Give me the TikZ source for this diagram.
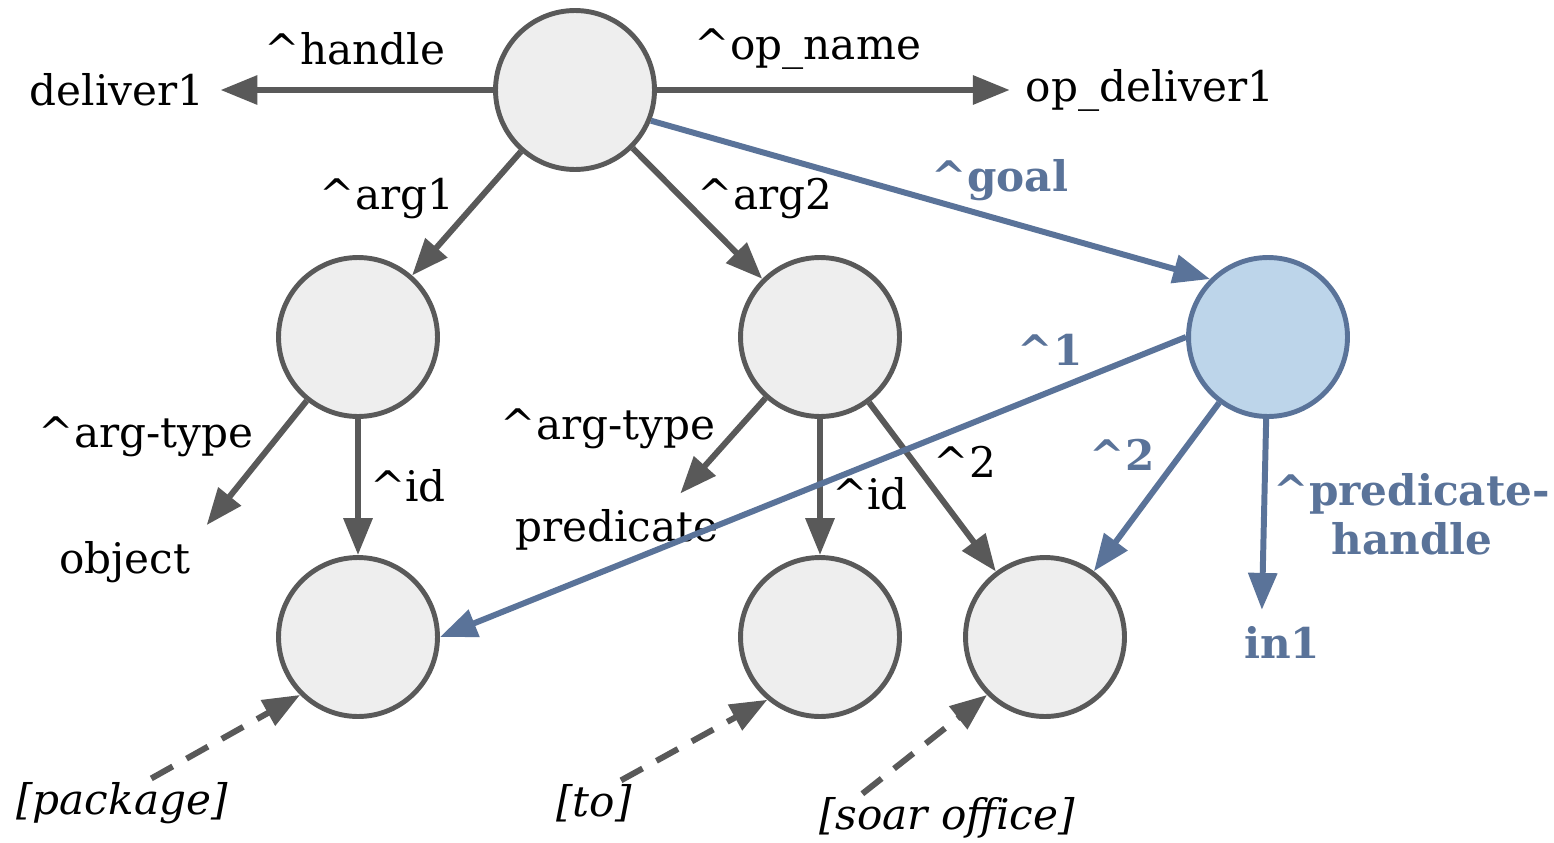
\documentclass[tikz,border=0pt]{standalone}
\usepackage{fontspec}
\setmainfont{DejaVu Serif}
\usetikzlibrary{arrows.meta}
\definecolor{edgegray}{HTML}{595959}
\definecolor{nodegray}{HTML}{EEEEEE}
\definecolor{wmeblue}{HTML}{5A7399}
\definecolor{wmefill}{HTML}{BDD5EA}

\begin{document}
\begin{tikzpicture}[x=0.02cm,y=-0.02cm,
    font=\fontsize{24}{28}\selectfont,
    wme/.style={circle,draw=edgegray,fill=nodegray,line width=2.8pt,minimum size=3.18cm,inner sep=0pt},
    goalwme/.style={wme,draw=wmeblue,fill=wmefill},
    lbl/.style={inner sep=9pt},
    word/.style={inner sep=2pt,font=\fontsize{24}{28}\selectfont\itshape},
    bluelbl/.style={text=wmeblue,font=\fontsize{24}{28}\selectfont\bfseries},
    arc/.style={-{Triangle[length=21pt,width=16pt]},line width=3.4pt,draw=edgegray},
    bluearc/.style={arc,draw=wmeblue},
    wordarc/.style={arc,dash pattern=on 14pt off 9pt}]
    \useasboundingbox (0,0) rectangle (1554,842);
    \node[wme] (root) at (575,90) {};
    \node[wme] (arga) at (358,337) {};
    \node[wme] (argb) at (820,337) {};
    \node[goalwme] (goal) at (1268,337) {};
    \node[wme] (pkg) at (358,637) {};
    \node[wme] (to) at (820,637) {};
    \node[wme] (office) at (1045,637) {};
    \node[lbl] (deliver) at (117,90) {deliver1};
    \node[lbl] (opdeliver) at (1150,90) {op\_deliver1};
    \node[lbl] (object) at (125,562) {object};
    \node[lbl] (predicate) at (617,530) {predicate};
    \node[lbl,bluelbl] (inone) at (1282,642) {in1};
    \node[word] (wpkg) at (122,803) {[package]};
    \node[word] (wto) at (594,803) {[to]};
    \node[word] (woffice) at (947,818) {[soar office]};
    \node (lhandle) at (355,49) {\textasciicircum handle};
    \node (lopname) at (808,49) {\textasciicircum op\_name};
    \node (larga) at (387,199) {\textasciicircum arg1};
    \node (largb) at (765,199) {\textasciicircum arg2};
    \node (ltypea) at (146,437) {\textasciicircum arg-type};
    \node (lida) at (408,486) {\textasciicircum id};
    \node (ltypeb) at (608,429) {\textasciicircum arg-type};
    \node (lidb) at (870,494) {\textasciicircum id};
    \node (ltwo) at (965,462) {\textasciicircum 2};
    \node[bluelbl] (lgoal) at (1000,180) {\textasciicircum goal};
    \node[bluelbl] (lone) at (1050,350) {\textasciicircum 1};
    \node[bluelbl] (lbtwo) at (1122,455) {\textasciicircum 2};
    \node[bluelbl,align=center] (lhandleb) at (1412,514) {\textasciicircum predicate-\\handle};
    \draw[arc] (root) -- (deliver);
    \draw[arc] (root) -- (opdeliver);
    \draw[arc] (root) -- (arga);
    \draw[arc] (root) -- (argb);
    \draw[arc] (arga) -- (object.north east);
    \draw[arc] (arga) -- (pkg);
    \draw[arc] (argb) -- (predicate.30);
    \draw[arc] (argb) -- (to);
    \draw[arc] (argb) -- (office);
    \draw[wordarc] (wpkg.40) -- (pkg.225);
    \draw[wordarc] (wto.40) -- (to.230);
    \draw[wordarc] (woffice.164) -- (office.225);
    \draw[bluearc] (root.-22) -- (goal.135);
    \draw[bluearc] (goal.west) -- (pkg.east);
    \draw[bluearc] (goal) -- (office);
    \draw[bluearc] (goal) -- (inone.122);
\end{tikzpicture}
\end{document}
